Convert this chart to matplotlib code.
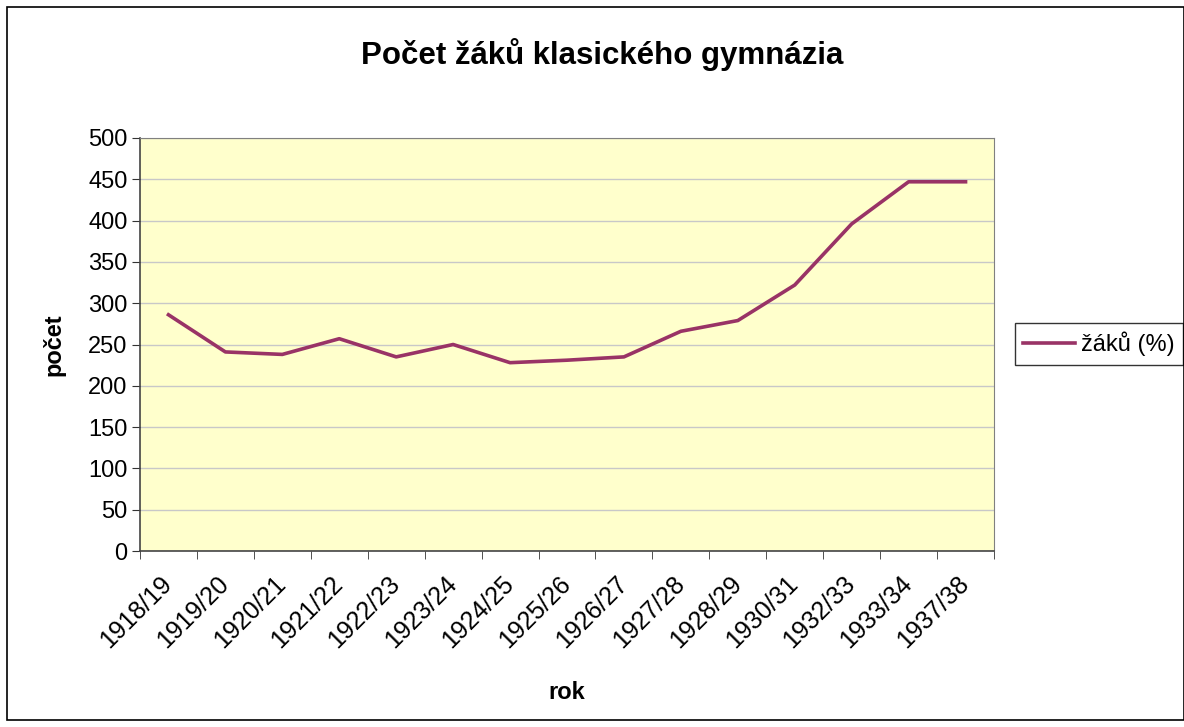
import matplotlib
matplotlib.use("Agg")
import matplotlib.pyplot as plt
from matplotlib.patches import Rectangle

# Data
years = ['1918/19', '1919/20', '1920/21', '1921/22', '1922/23', '1923/24', '1924/25',
         '1925/26', '1926/27', '1927/28', '1928/29', '1930/31', '1932/33', '1933/34', '1937/38']
pupils = [286, 241, 238, 257, 235, 250, 228, 231, 235, 266, 279, 322, 396, 447, 447]

plt.rcParams['font.family'] = ['Liberation Sans', 'DejaVu Sans']

W, H = 1184, 727
fig = plt.figure(figsize=(W / 100, H / 100), dpi=100)
ax = fig.add_axes([140 / W, 1 - 551 / H, (994 - 140) / W, (551 - 138) / H])

# outer border of the chart
fig.patches.append(Rectangle((7 / W, 7 / H), 1 - 7 / W, 1 - 14 / H,
                             transform=fig.transFigure, fill=False, edgecolor='black', linewidth=1.2))

ax.set_facecolor('#FFFFCC')
x = list(range(len(years)))
ax.plot(x, pupils, color='#993366', linewidth=2.6, label='žáků (%)')

ax.set_xlim(-0.5, len(years) - 0.5)
ax.set_ylim(0, 500)
ax.set_yticks(range(0, 501, 50))
ax.yaxis.grid(True, color='#C8C8C8', linewidth=1)
ax.set_axisbelow(True)

ax.set_xticks(x)
ax.set_xticklabels(years, rotation=45, ha='right', va='center', rotation_mode='anchor', fontsize=18)
ax.tick_params(axis='x', which='major', length=0, pad=21)
ax.set_xticks([i - 0.5 for i in range(len(years) + 1)], minor=True)
ax.tick_params(axis='x', which='minor', length=6, color='#333333')
ax.tick_params(axis='y', length=6, color='#333333', labelsize=17, pad=3)

for s in ['top', 'right']:
    ax.spines[s].set_color('#808080')
for s in ['left', 'bottom']:
    ax.spines[s].set_color('#444444')
    ax.spines[s].set_linewidth(1.2)

fig.text(602 / W, 1 - 55 / H, 'Počet žáků klasického gymnázia', fontsize=22.5, fontweight='bold',
         ha='center', va='center')
ax.set_xlabel('rok', fontsize=17, fontweight='bold', labelpad=20)
ax.set_ylabel('počet', fontsize=17, fontweight='bold', labelpad=16)

leg = ax.legend(loc='center left', bbox_to_anchor=(1015 / W, 1 - 344 / H), bbox_transform=fig.transFigure,
                fontsize=17, frameon=True, fancybox=False, edgecolor='black', borderaxespad=0,
                borderpad=0.35, handlelength=2.2, handletextpad=0.25)
leg.get_frame().set_linewidth(1)

fig.savefig('out.png', dpi=100)
